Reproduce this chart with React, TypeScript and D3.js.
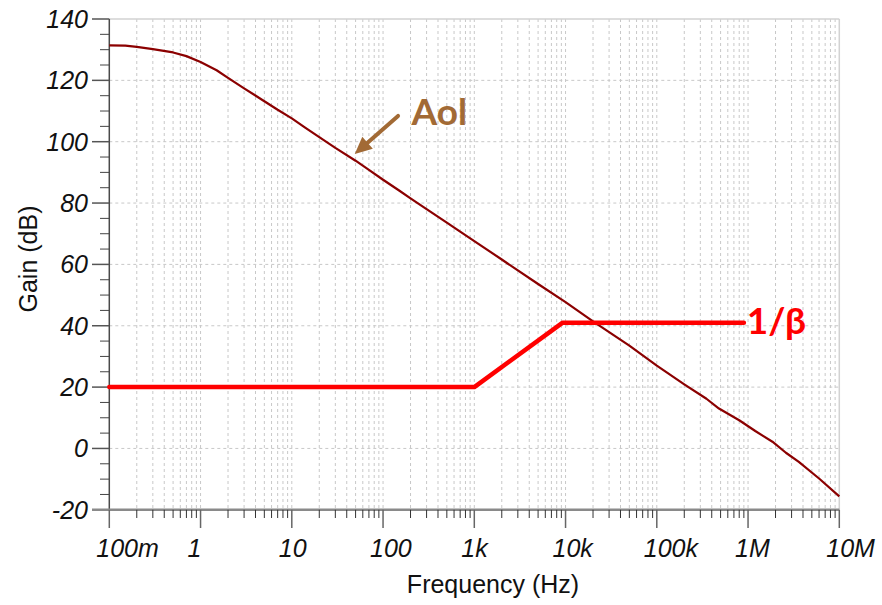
import React from "react";
import * as d3 from "d3";

// Open-loop gain (Aol) of the op amp, frequency in Hz and gain in dB
const aolFreq = [
  0.1, 0.15, 0.2, 0.3, 0.5, 0.7, 1, 1.5, 2, 3, 5, 7, 10, 14, 20, 30, 50, 70,
  100, 150, 200, 300, 500, 700, 1000, 2000, 5000, 10000, 20000, 50000, 100000,
  200000, 350000, 480000, 800000, 1200000, 1850000, 2600000, 3600000, 6000000,
  10000000,
];
const aolGain = [
  131.4, 131.3, 130.9, 130.2, 129.1, 127.9, 126.0, 123.3, 120.8, 117.4, 113.2,
  110.4, 107.6, 104.6, 101.5, 98.0, 93.8, 90.8, 87.6, 84.1, 81.5, 78.0, 73.6,
  70.7, 67.6, 61.6, 53.6, 47.7, 41.4, 33.5, 27.0, 20.9, 16.2, 13.0, 9.2, 5.7,
  2.2, -1.4, -4.4, -9.8, -15.6,
];

// Noise gain 1/β
const betaFreq = [0.1, 1000, 9300, 900000];
const betaGain = [20, 20, 41, 41];

// Axis ticks
const yTickValues = [-20, 0, 20, 40, 60, 80, 100, 120, 140];
const xTickValues = [0.1, 1, 10, 100, 1e3, 1e4, 1e5, 1e6, 1e7];
const xTickLabels = ["100m", "1", "10", "100", "1k", "10k", "100k", "1M", "10M"];

// Annotation anchors in data units
const aolArrowTail = { f: 146, g: 108.4 };
const aolArrowTip = { f: 49, g: 96 };
const aolLabel = { f: 205, g: 105.4, text: "Aol" };
const betaLabel = { f: 970000, g: 37.4, text: "1/β" };

const W = 882;
const H = 605;
const left = 109.3;
const right = 839.3;
const top = 19;
const bottom = 509.8;

const FONT = "'Liberation Sans', Arial, sans-serif";
const LABEL_FONT = "Lato, 'Open Sans', sans-serif";

export default function App() {
  const x = d3.scaleLog().domain([0.1, 1e7]).range([left, right]);
  const y = d3.scaleLinear().domain([-20, 140]).range([bottom, top]);

  // minor decades for grid and ticks
  const minorX: number[] = [];
  for (let e = -1; e < 7; e++) {
    for (let m = 2; m <= 9; m++) minorX.push(m * Math.pow(10, e));
  }
  const gridX = [...minorX, ...xTickValues.slice(1, -1)];
  const minorY = d3.range(-20, 140, 5).filter((v) => v % 20 !== 0);

  const aolLine = d3
    .line<number>()
    .x((_, i) => x(aolFreq[i]))
    .y((d) => y(d))
    .curve(d3.curveLinear)(aolGain);
  const betaLine = d3
    .line<number>()
    .x((_, i) => x(betaFreq[i]))
    .y((d) => y(d))(betaGain);

  const tipX = x(aolArrowTip.f);
  const tipY = y(aolArrowTip.g);
  const tailX = x(aolArrowTail.f);
  const tailY = y(aolArrowTail.g);
  const ang = Math.atan2(tipY - tailY, tipX - tailX);
  const headLen = 17;
  const headW = 8;
  const baseX = tipX - headLen * Math.cos(ang);
  const baseY = tipY - headLen * Math.sin(ang);
  const nx = -Math.sin(ang);
  const ny = Math.cos(ang);
  const head = `M${tipX},${tipY} L${baseX + nx * headW},${baseY + ny * headW} L${baseX - nx * headW},${baseY - ny * headW} Z`;

  return (
    <svg
      width={W}
      height={H}
      style={{ position: "absolute", left: 0, top: 0, background: "#fff" }}
    >
      <rect x={0} y={0} width={W} height={H} fill="#fff" />
      {/* grid */}
      <g stroke="#c8c8c8" strokeWidth={1} strokeDasharray="3,3">
        {gridX.map((f) => (
          <line key={"gx" + f} x1={x(f)} x2={x(f)} y1={top} y2={bottom} />
        ))}
        {yTickValues.slice(1, -1).map((v) => (
          <line key={"gy" + v} x1={left} x2={right} y1={y(v)} y2={y(v)} />
        ))}
      </g>
      {/* frame */}
      <line x1={left} x2={right} y1={top} y2={top} stroke="#d2d2d2" strokeWidth={1.5} />
      <line x1={right} x2={right} y1={top} y2={bottom} stroke="#d2d2d2" strokeWidth={1.5} />

      {/* y axis */}
      <line x1={left} x2={left} y1={top} y2={bottom} stroke="#4a4a4a" strokeWidth={1.5} />
      {yTickValues.slice(1).map((v) => (
        <line key={"yt" + v} x1={92} x2={left} y1={y(v)} y2={y(v)} stroke="#555" strokeWidth={1.5} />
      ))}
      {minorY.map((v) => (
        <line key={"ym" + v} x1={100} x2={left} y1={y(v)} y2={y(v)} stroke="#444" strokeWidth={1} />
      ))}
      {yTickValues.map((v) => (
        <text
          key={"yl" + v}
          x={88}
          y={y(v) + 9}
          textAnchor="end"
          fontFamily={FONT}
          fontStyle="italic"
          fontSize={25}
          fill="#111"
        >
          {v}
        </text>
      ))}

      {/* x axis */}
      <line x1={92} x2={right} y1={bottom} y2={bottom} stroke="#8a8a8a" strokeWidth={2.5} />
      {xTickValues.map((f) => (
        <line key={"xt" + f} x1={x(f)} x2={x(f)} y1={bottom} y2={528} stroke="#666" strokeWidth={1.5} />
      ))}
      {minorX.map((f) => (
        <line key={"xm" + f} x1={x(f)} x2={x(f)} y1={bottom} y2={518} stroke="#333" strokeWidth={1} />
      ))}
      {xTickValues.map((f, i) => (
        <text
          key={"xl" + f}
          x={x(f) - 13}
          y={557}
          textAnchor="start"
          fontFamily={FONT}
          fontStyle="italic"
          fontSize={25}
          fill="#111"
        >
          {xTickLabels[i]}
        </text>
      ))}

      {/* axis titles */}
      <text x={493} y={593} textAnchor="middle" fontFamily={FONT} fontSize={25} fill="#111">
        Frequency (Hz)
      </text>
      <text
        transform={`translate(37,259) rotate(-90)`}
        textAnchor="middle"
        fontFamily={FONT}
        fontSize={25}
        fill="#111"
      >
        Gain (dB)
      </text>

      {/* curves */}
      <path d={aolLine || ""} fill="none" stroke="#8b0000" strokeWidth={2.2} strokeLinejoin="round" />
      <path d={betaLine || ""} fill="none" stroke="#ff0000" strokeWidth={4.5} strokeLinejoin="round" strokeLinecap="round" />

      {/* annotations */}
      <line x1={tailX} y1={tailY} x2={baseX} y2={baseY} stroke="#a26a35" strokeWidth={4} strokeLinecap="round" />
      <path d={head} fill="#a26a35" />
      <text
        x={x(aolLabel.f)}
        y={y(aolLabel.g)}
        fontFamily={LABEL_FONT}
        fontWeight="bold"
        fontSize={37}
        fill="#a26a35"
      >
        {aolLabel.text}
      </text>
      <text
        x={x(betaLabel.f)}
        y={y(betaLabel.g)}
        fontFamily={LABEL_FONT}
        fontWeight="bold"
        fontSize={37}
        fill="#ff0000"
      >
        {betaLabel.text}
      </text>
    </svg>
  );
}
